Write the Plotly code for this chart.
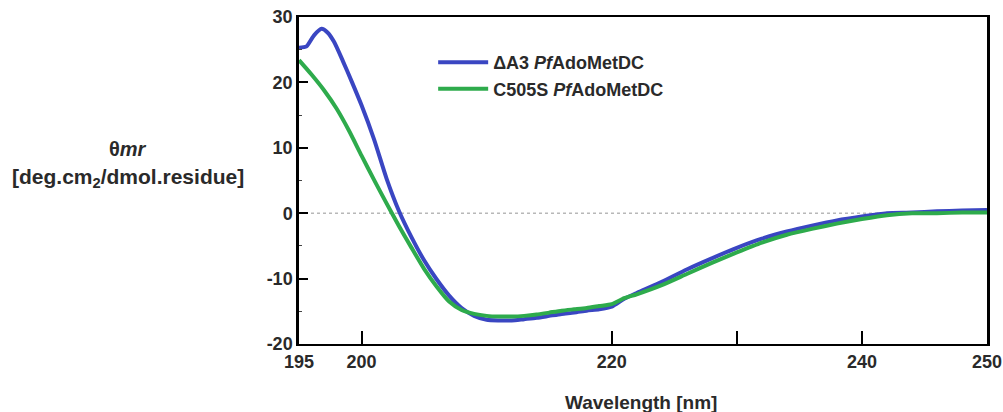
import plotly.graph_objects as go

# Wavelength (nm) and mean residue ellipticity values
wl_a3 = [195, 195.6, 196.2, 196.8, 197.3, 197.8, 198.5, 199.2, 200, 201, 202, 203, 204, 205, 206,
         207, 208, 209, 210, 211, 212, 213, 214, 215, 216, 217, 218, 219, 220, 221, 222, 224, 226,
         228, 230, 232, 234, 236, 238, 240, 242, 244, 246, 248, 250]
theta_a3 = [25.3, 25.5, 27.2, 28.2, 27.6, 26.2, 23.3, 20.2, 16.5, 11.3, 5.3, 0.3, -3.7, -7.2, -10.1,
            -12.6, -14.5, -15.7, -16.3, -16.4, -16.4, -16.2, -16.0, -15.7, -15.4, -15.2, -14.9, -14.7,
            -14.3, -13.1, -12.2, -10.5, -8.6, -6.9, -5.3, -3.9, -2.8, -1.9, -1.1, -0.5, 0.0, 0.1, 0.3,
            0.4, 0.5]

wl_c505s = [195, 196, 197, 198, 199, 200, 201, 202, 203, 204, 205, 206, 207, 208, 209, 210, 211,
            212, 213, 214, 215, 216, 217, 218, 219, 220, 221, 222, 224, 226, 228, 230, 232, 234,
            236, 238, 240, 242, 244, 246, 248, 250]
theta_c505s = [23.4, 21.2, 18.8, 16.0, 12.6, 8.8, 5.1, 1.5, -2.0, -5.3, -8.5, -11.2, -13.5, -14.8,
               -15.4, -15.7, -15.8, -15.8, -15.7, -15.5, -15.2, -14.9, -14.7, -14.5, -14.2, -13.9,
               -13.0, -12.4, -11.0, -9.3, -7.6, -6.0, -4.5, -3.3, -2.4, -1.6, -0.9, -0.3, 0.0, 0.0,
               0.1, 0.1]

series_names = ["<b>ΔA3 <i>Pf</i>AdoMetDC</b>", "<b>C505S <i>Pf</i>AdoMetDC</b>"]
x_tickvals = [195, 200, 220, 240, 250]
x_ticktext = ["195", "200", "220", "240", "250"]
x_minor_tickvals = [230]
y_tickvals = [-20, -10, 0, 10, 20, 30]
y_ticktext = ["-20", "-10", "0", "10", "20", "30"]

FONT = "Liberation Sans, Arial, sans-serif"
TXT = "#2a2a2a"
BLUE = "#3a46c2"
GREEN = "#2eab4c"

fig = go.Figure()
fig.add_trace(go.Scatter(x=wl_a3, y=theta_a3, mode="lines", name=series_names[0],
                         line=dict(color=BLUE, width=4, shape="spline", smoothing=0.6)))
fig.add_trace(go.Scatter(x=wl_c505s, y=theta_c505s, mode="lines", name=series_names[1],
                         line=dict(color=GREEN, width=4, shape="spline", smoothing=0.6)))

# dotted zero reference line
fig.add_shape(type="line", xref="paper", x0=0, x1=1, yref="y", y0=0, y1=0,
              line=dict(color="#b8b8b8", width=1.5, dash="dot"), layer="below")

fig.update_layout(
    width=1003, height=412,
    margin=dict(l=299, r=16, t=17, b=68, autoexpand=False),
    plot_bgcolor="white", paper_bgcolor="white",
    font=dict(family=FONT, size=18, color=TXT),
    showlegend=True,
    legend=dict(x=0.195, y=0.917, xanchor="left", yanchor="top", bgcolor="rgba(0,0,0,0)",
                font=dict(family=FONT, size=18, color=TXT), itemwidth=50),
    xaxis=dict(range=[195, 250], tickvals=x_tickvals, ticktext=x_ticktext,
               ticks="inside", ticklen=13, tickwidth=2, tickcolor="black",
               minor=dict(tickvals=x_minor_tickvals, ticks="inside", ticklen=13, tickwidth=2,
                          tickcolor="black"),
               showline=True, linecolor="black", linewidth=2, mirror=True,
               showgrid=False, zeroline=False, automargin=False,
               tickfont=dict(family=FONT, size=18, color=TXT, weight="bold")),
    yaxis=dict(range=[-20, 30], tickvals=y_tickvals, ticktext=y_ticktext,
               ticks="inside", ticklen=9, tickwidth=2, tickcolor="black",
               minor=dict(dtick=5, ticks="inside", ticklen=3, tickwidth=1, tickcolor="#444"),
               showline=True, linecolor="black", linewidth=2.5, mirror=True,
               showgrid=False, zeroline=False, automargin=False,
               tickfont=dict(family=FONT, size=18, color=TXT, weight="bold")),
)

fig.add_annotation(text="<b>Wavelength [nm]</b>", xref="paper", yref="paper",
                   x=(641 - 299) / 688, y=-(403 - 344) / 327, showarrow=False,
                   xanchor="center", yanchor="middle",
                   font=dict(family=FONT, size=19, color=TXT))
fig.add_annotation(text="<b>θ<i>mr</i></b>", xref="paper", yref="paper",
                   x=-(299 - 128) / 688, y=(344 - 162) / 327, showarrow=False,
                   xanchor="center", yanchor="bottom",
                   font=dict(family=FONT, size=20, color=TXT))
fig.add_annotation(text="<b>[deg.cm<sub>2</sub>/dmol.residue]</b>", xref="paper", yref="paper",
                   x=-(299 - 128) / 688, y=(344 - 163) / 327, showarrow=False,
                   xanchor="center", yanchor="top",
                   font=dict(family=FONT, size=21, color=TXT))

fig.write_html("out.html", config={"displayModeBar": False},
               post_script="document.body.style.margin='0px';")
